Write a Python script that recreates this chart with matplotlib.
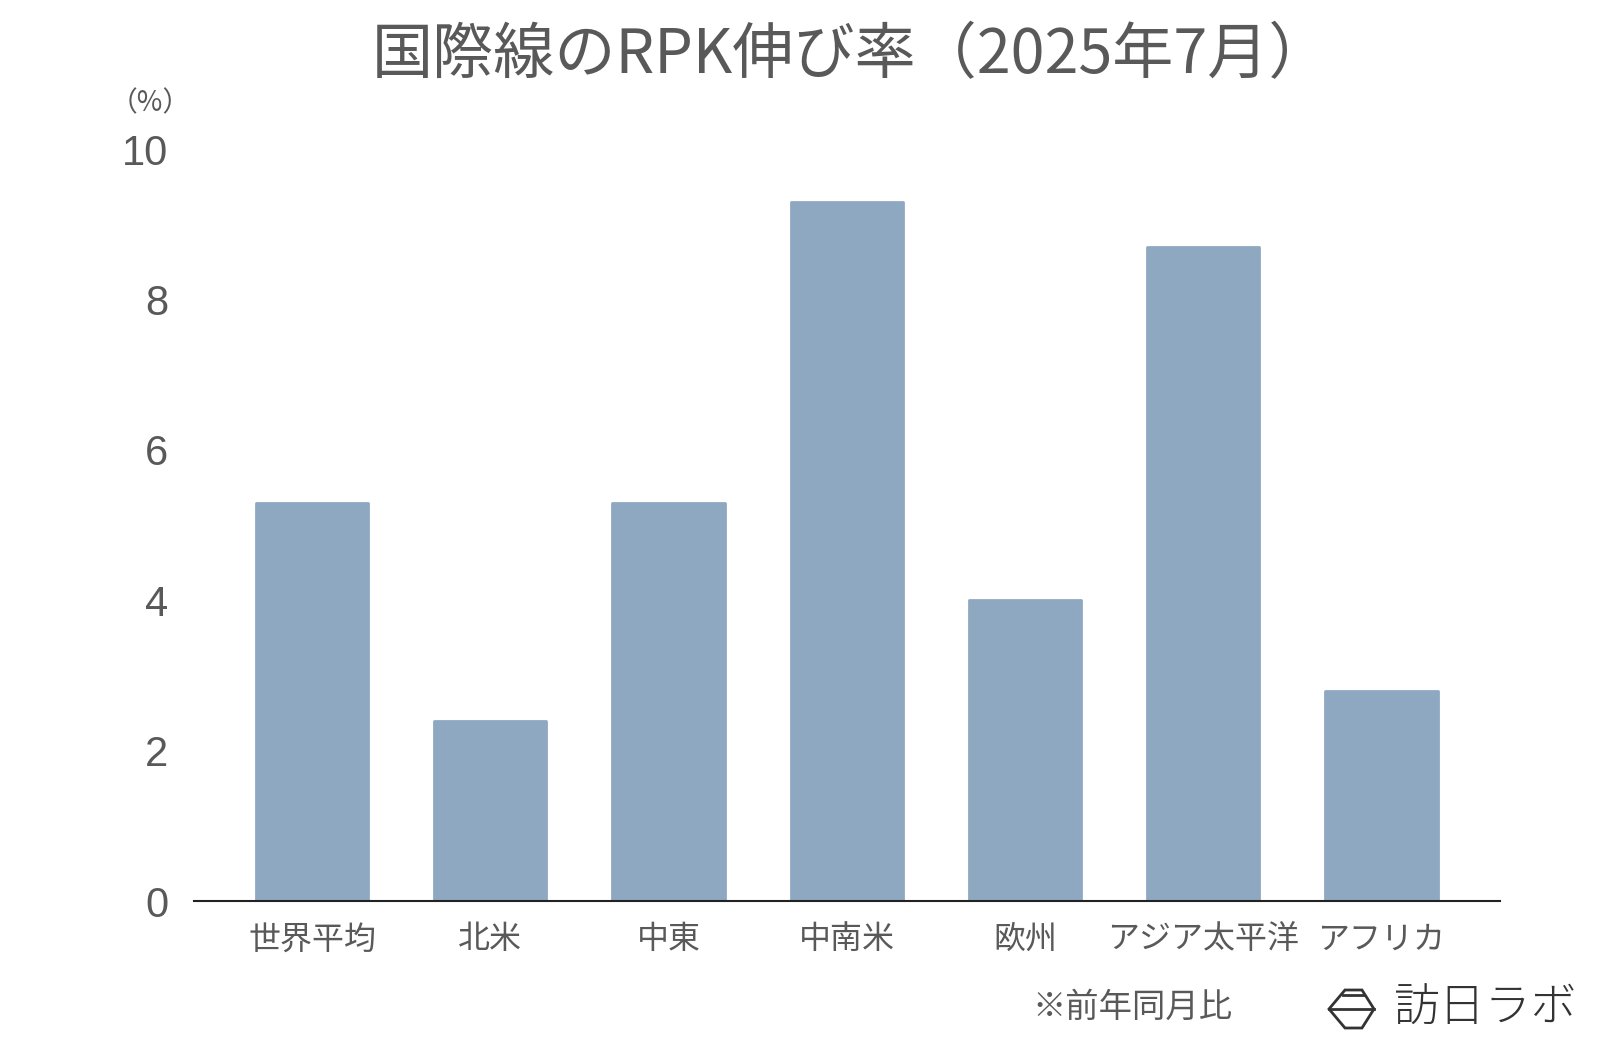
import matplotlib
matplotlib.use("Agg")
import matplotlib.pyplot as plt
from matplotlib.patches import Polygon

plt.rcParams['font.family'] = ['Noto Sans CJK JP', 'DejaVu Sans']

# Data
regions = ["世界平均", "北米", "中東", "中南米", "欧州", "アジア太平洋", "アフリカ"]
growth = [5.3, 2.4, 5.3, 9.3, 4.0, 8.7, 2.8]
y_ticks = [0, 2, 4, 6, 8, 10]

TEXT = "#595959"
BAR = "#8fa8c2"

fig = plt.figure(figsize=(16, 10.43), dpi=100)
ax = fig.add_axes([0.121, 0.136, 0.8165, 0.721])

x = range(len(regions))
ax.bar(x, growth, width=0.63, color=BAR, edgecolor=BAR, linewidth=2,
       joinstyle="round", zorder=2)
ax.set_xlim(-0.665, len(regions) - 0.335)
ax.set_ylim(0, 10)
ax.set_yticks(y_ticks)
ax.set_yticklabels([str(t) for t in y_ticks], fontsize=30, color=TEXT,
                   family=['Liberation Sans', 'DejaVu Sans'])
ax.set_xticks(list(x))
ax.set_xticklabels(regions, fontsize=23, color=TEXT)
ax.tick_params(axis="both", length=0)
ax.tick_params(axis="y", pad=18)
ax.tick_params(axis="x", pad=16)
for s in ["top", "right", "left"]:
    ax.spines[s].set_visible(False)
ax.spines["bottom"].set_color("#222222")
ax.spines["bottom"].set_linewidth(1.5)
ax.spines["bottom"].set_zorder(3)

fig.text(0.532, 0.946, "国際線のRPK伸び率（2025年7月）", ha="center", va="center",
         fontsize=44, color=TEXT)
fig.text(0.094, 0.901, "（%）", ha="center", va="center", fontsize=20, color=TEXT)
fig.text(0.708, 0.034, "※前年同月比", ha="center", va="center", fontsize=24, color=TEXT)

# Logo in pixel coordinates
lg = fig.add_axes([0, 0, 1, 1], zorder=5)
lg.set_xlim(0, 1600)
lg.set_ylim(1043, 0)
lg.axis("off")
hexagon = [(1345, 990), (1362, 990), (1374, 1009), (1362, 1028), (1345, 1028), (1329, 1009)]
lg.add_patch(Polygon(hexagon, closed=True, fill=False, edgecolor="#333333", linewidth=2))
lg.plot([1329, 1374], [1009, 1009], color="#333333", linewidth=2)
lg.plot([1343, 1364], [995, 995], color="#333333", linewidth=2)
lg.text(1393, 1009, "訪日ラボ", ha="left", va="center", fontsize=33, color="#333333",
        fontweight="light")

fig.savefig("out.png", dpi=100, facecolor="white")
